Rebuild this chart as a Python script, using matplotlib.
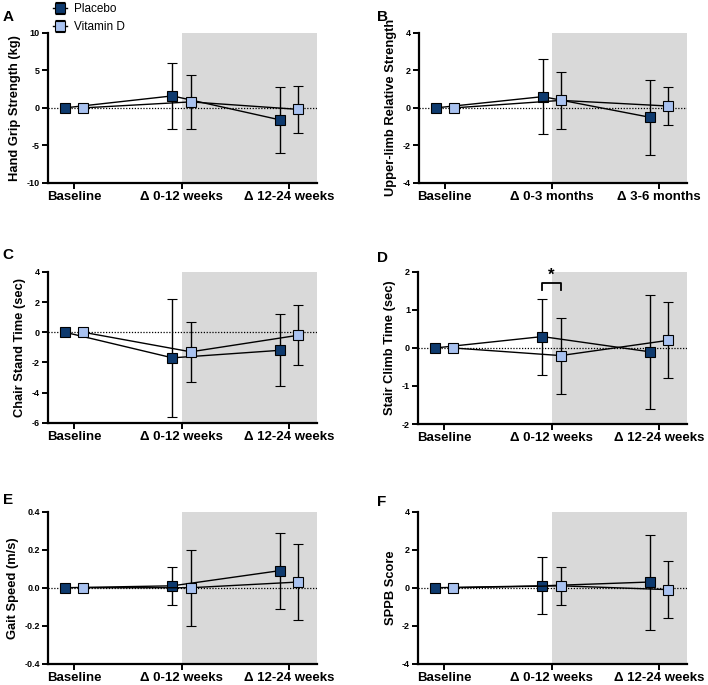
import matplotlib
matplotlib.use("Agg")
import matplotlib.pyplot as plt
import numpy as np

plt.rcParams['font.family'] = ['Liberation Sans', 'DejaVu Sans']

# data: mean and symmetric error, order = Baseline, first change, second change
panels = ['A', 'B', 'C', 'D', 'E', 'F']
ylabels = ['Hand Grip Strength (kg)', 'Upper-limb Relative Strength',
           'Chair Stand Time (sec)', 'Stair Climb Time (sec)',
           'Gait Speed (m/s)', 'SPPB Score']
xlabels_weeks = ['Baseline', '\u0394 0-12 weeks', '\u0394 12-24 weeks']
xlabels_months = ['Baseline', '\u0394 0-3 months', '\u0394 3-6 months']

placebo_mean = [[0, 1.6, -1.6], [0, 0.6, -0.5], [0, -1.7, -1.2],
                [0, 0.3, -0.1], [0, 0.01, 0.09], [0, 0.1, 0.3]]
placebo_err = [[0, 4.4, 4.4], [0, 2.0, 2.0], [0, 3.9, 2.4],
               [0, 1.0, 1.5], [0, 0.1, 0.2], [0, 1.5, 2.5]]
vitd_mean = [[0, 0.8, -0.2], [0, 0.4, 0.1], [0, -1.3, -0.2],
             [0, -0.2, 0.2], [0, 0.0, 0.03], [0, 0.1, -0.1]]
vitd_err = [[0, 3.6, 3.1], [0, 1.5, 1.0], [0, 2.0, 2.0],
            [0, 1.0, 1.0], [0, 0.2, 0.2], [0, 1.0, 1.5]]

ylims = [(-10, 10), (-4, 4), (-6, 4), (-2, 2), (-0.4, 0.4), (-4, 4)]
yticks = [[-10, -5, 0, 5, 10], [-4, -2, 0, 2, 4], [-6, -4, -2, 0, 2, 4],
          [-2, -1, 0, 1, 2], [-0.4, -0.2, 0.0, 0.2, 0.4], [-4, -2, 0, 2, 4]]
ytick_fmt = ['%d', '%d', '%d', '%d', '%.1f', '%d']

c_placebo = '#0e3a6e'
c_vitd = '#a9c2f0'
shade = '#d9d9d9'

# axes boxes in figure fractions [left, bottom, width, height]
boxes = [[0.068, 0.733, 0.380, 0.219], [0.592, 0.733, 0.378, 0.219],
         [0.068, 0.383, 0.380, 0.220], [0.591, 0.381, 0.379, 0.222],
         [0.068, 0.031, 0.380, 0.222], [0.591, 0.031, 0.379, 0.222]]
letter_pos = [(0.004, 0.985), (0.532, 0.985), (0.004, 0.638), (0.532, 0.633),
              (0.004, 0.28), (0.532, 0.277)]

fig = plt.figure(figsize=(7.08, 6.85), dpi=100)
x = np.arange(3)
off = 0.085

for i in range(6):
    ax = fig.add_axes(boxes[i])
    ax.set_xlim(-0.24, 2.26)
    ax.set_ylim(*ylims[i])
    ax.axvspan(1, 2.26, color=shade, zorder=0, lw=0)
    ax.axhline(0, color='black', lw=0.9, ls=(0, (1, 1.3)), zorder=1)

    ax.errorbar(x - off, placebo_mean[i], yerr=placebo_err[i], color='black',
                lw=1.0, elinewidth=1.0, capsize=3.5, capthick=1.0, zorder=2,
                marker='s', markersize=6.5, markerfacecolor=c_placebo,
                markeredgecolor='black', markeredgewidth=0.8, label='Placebo')
    ax.errorbar(x + off, vitd_mean[i], yerr=vitd_err[i], color='black',
                lw=1.0, elinewidth=1.0, capsize=3.5, capthick=1.0, zorder=3,
                marker='s', markersize=6.5, markerfacecolor=c_vitd,
                markeredgecolor='black', markeredgewidth=0.8, label='Vitamin D')

    ax.set_xticks(x)
    ax.set_xticklabels(xlabels_months if i == 1 else xlabels_weeks,
                       fontsize=9.5, fontweight='bold')
    ax.set_yticks(yticks[i])
    ax.set_yticklabels([ytick_fmt[i] % v for v in yticks[i]], fontsize=6.5,
                       fontweight='bold')
    ax.set_ylabel(ylabels[i], fontsize=9.3, fontweight='bold', labelpad=4)
    for s in ['top', 'right']:
        ax.spines[s].set_visible(False)
    for s in ['left', 'bottom']:
        ax.spines[s].set_linewidth(1.6)
    ax.tick_params(width=1.4, length=4, pad=2)
    fig.text(letter_pos[i][0], letter_pos[i][1], panels[i], fontsize=11,
             fontweight='bold', va='top', ha='left')

    if i == 0:
        ax.legend(loc='upper left', bbox_to_anchor=(0.0, 1.23), frameon=False,
                  fontsize=8.5, handlelength=1.2, handletextpad=0.6,
                  labelspacing=0.5, borderaxespad=0)

    if i == 3:
        # significance bracket between groups at 0-12 weeks
        y0, y1 = 1.53, 1.70
        ax.plot([1 - off, 1 - off, 1 + off, 1 + off], [y0, y1, y1, y0],
                color='black', lw=1.3, zorder=4)
        ax.text(1, 1.72, '*', ha='center', va='bottom', fontsize=12,
                fontweight='bold')

fig.savefig('out.png', dpi=100)
